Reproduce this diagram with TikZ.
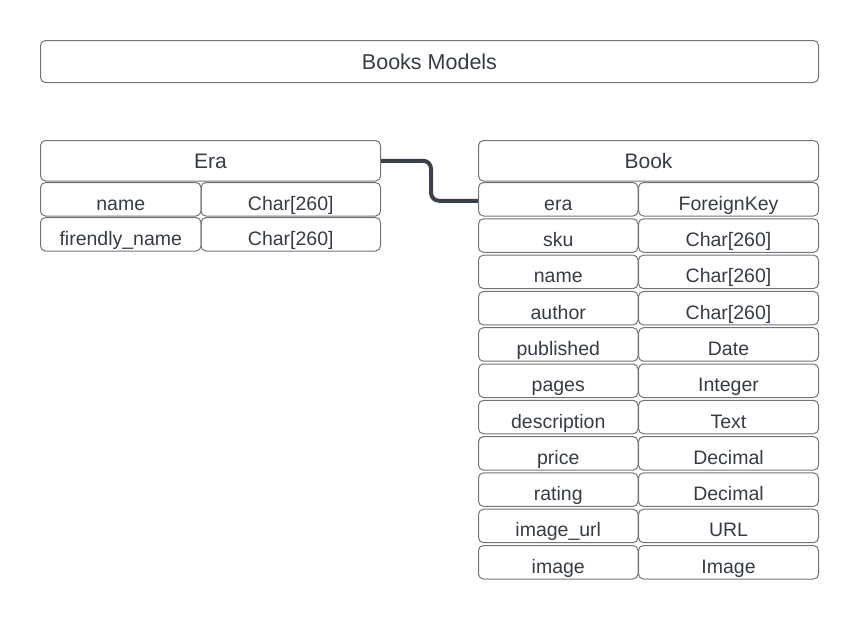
\documentclass[tikz,border=0pt]{standalone}
\usepackage{fontspec}
\setmainfont{Liberation Sans}
\usetikzlibrary{positioning}
\definecolor{linegray}{HTML}{70747B}
\definecolor{textgray}{HTML}{363C46}
\definecolor{wiregray}{HTML}{3A414A}
\def\rowsep{36.3}
\tikzstyle{field}=[draw=linegray, line width=1pt, rounded corners=5pt, anchor=north west, inner sep=0pt, minimum height=33.5pt, text=textgray, font=\fontsize{19.5}{22}\selectfont, text height=23pt, text depth=1pt]
\tikzstyle{name field}=[field, minimum width=159.5pt]
\tikzstyle{type field}=[field, minimum width=180pt]
\tikzstyle{header}=[field, minimum width=340pt, minimum height=40.5pt, font=\fontsize{21}{24}\selectfont, text height=16pt, text depth=1pt]
\tikzstyle{title box}=[header, minimum width=778pt, minimum height=42pt, font=\fontsize{21.5}{24}\selectfont]
\tikzstyle{link}=[draw=wiregray, line width=4pt, rounded corners=8pt]

\begin{document}
\begin{tikzpicture}[x=1pt, y=-1pt]
		\useasboundingbox (0,0) rectangle (858,619);
		% Draw the title bar
		\node[title box] (T) at (40,40) {Books Models};
		% Draw the Era model
		\node[header] (E) at (40,140) {Era};
		\foreach \fld / \typ [count=\i] in {name/Char[260], firendly\_name/Char[260]}
		{
			\node[name field, minimum width=160.5pt] (E-\i-n) at (40,{182+35*(\i-1)}) {\fld};
			\node[type field, minimum width=179.5pt] (E-\i-t) at (200.5,{182+35*(\i-1)}) {\typ};
		}
		% Draw the Book model
		\node[header] (B) at (478,140) {Book};
		\foreach \fld / \typ [count=\i] in {era/ForeignKey, sku/Char[260], name/Char[260], author/Char[260], published/Date, pages/Integer, description/Text, price/Decimal, rating/Decimal, image\_url/URL, image/Image}
		{
			\pgfmathsetmacro\y{182+\rowsep*(\i-1)}
			\node[name field] (B-\i-n) at (478,\y) {\fld};
			\node[type field] (B-\i-t) at (638,\y) {\typ};
		}
		% Connect the foreign key with the Era header
		\draw[link] (E.east) -- ++(50,0) |- ([yshift=-1.5pt]B-1-n.west);
	\end{tikzpicture}
\end{document}
